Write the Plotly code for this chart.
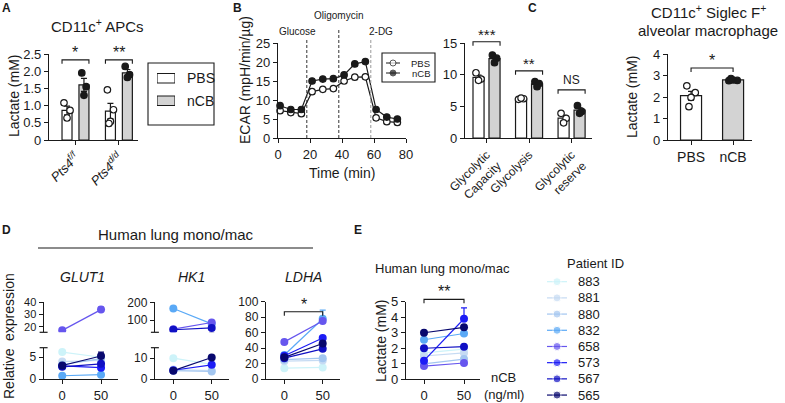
import numpy as np
import plotly.graph_objects as go

W, H = 785, 403
FONT = "Liberation Sans, Arial, Helvetica, sans-serif"
INK = "#1a1a1a"
GRAY = "#d3d3d3"

# ---------------- data ----------------
a_groups = ["<i>Pts4</i><sup><i>f/f</i></sup>", "<i>Pts4</i><sup><i>d/d</i></sup>"]
a_pbs_pts = [[1.08, 0.86, 0.64], [1.46, 0.88, 0.54, 0.48]]
a_ncb_pts = [[1.95, 1.55, 1.30], [2.14, 1.90, 1.82]]
a_sig = ["*", "**"]
a_ticks = [0, 0.5, 1.0, 1.5, 2.0, 2.5]
a_legend = ["PBS", "nCB"]

b_time = [1.3, 8, 14.6, 21.3, 28, 34.6, 41.3, 48, 54.6, 61.3, 68, 74.6]
b_pbs = [7.2, 6.7, 6.4, 12.2, 12.8, 13.0, 15.0, 16.0, 16.1, 5.3, 4.3, 4.1]
b_ncb = [8.5, 7.5, 7.5, 15.0, 15.5, 15.6, 16.6, 19.5, 20.1, 7.5, 5.5, 5.0]
b_inject_t = [18, 38, 58]
b_inject_lbl = ["Glucose", "Oligomycin", "2-DG"]
b_cats = ["Glycolytic<br>Capacity", "Glycolysis", "Glycolytic<br>reserve"]
b_pbs_pts = [[10.3, 9.3, 9.1], [6.1, 6.2, 6.3], [3.9, 3.1, 2.4]]
b_ncb_pts = [[13.1, 12.6, 11.9], [8.9, 8.6, 8.1], [5.1, 4.2, 3.9]]
b_sig = ["***", "**", "NS"]
b_sig_level = [15.2, 10.6, 7.6]

c_cats = ["PBS", "nCB"]
c_pbs_pts = [2.52, 2.20, 1.98, 1.55]
c_ncb_pts = [2.76, 2.77, 2.79, 2.86]

patients = ["883", "881", "880", "832", "658", "573", "567", "565"]
pat_colors = ["#cdf3f9", "#c6dbf3", "#a3c6f0", "#5aa9f6", "#6656ee", "#1c1cf5", "#1010c4", "#08086e"]
doses = [0, 50]
glut1_0 = [6.2, 4.0, 3.3, 0.75, 17.0, 3.0, 2.8, 3.1]
glut1_50 = [5.0, 4.3, 4.7, 1.0, 34.0, 2.6, 3.5, 5.3]
glut1_err50 = [0, 0, 0, 0, 2.0, 0, 0, 0.9]
hk1_0 = [10.0, 4.5, 4.0, 165, 48, 4.2, 45, 4.0]
hk1_50 = [7.0, 4.0, 3.6, 78, 86, 6.8, 55, 10.3]
ldha_0 = [14, 23, 25, 31, 48, 30, 27, 28]
ldha_50 = [15, 24, 27, 78, 75, 53, 39, 46]
ldha_err50 = [0, 0, 0, 11, 0, 0, 0, 0]
lact_0 = [1.7, 1.5, 1.0, 2.55, 0.85, 1.2, 2.0, 3.0]
lact_50 = [1.95, 1.7, 1.3, 2.95, 1.05, 3.9, 2.1, 3.35]
lact_err50 = [0, 0, 0, 0, 0, 0.7, 0.12, 0]


class Panel:
    def __init__(self, box, xr, yr):
        self.x0, self.y0, self.x1, self.y1 = box
        self.xr, self.yr = list(xr), list(yr)

    def px(self, v):
        return self.x0 + (v - self.xr[0]) / (self.xr[1] - self.xr[0]) * (self.x1 - self.x0)

    def py(self, v):
        return self.y1 - (v - self.yr[0]) / (self.yr[1] - self.yr[0]) * (self.y1 - self.y0)

    def xdom(self):
        return [self.x0 / W, self.x1 / W]

    def ydom(self):
        return [max(0, 1 - self.y1 / H), min(1, 1 - self.y0 / H)]


def PX(x):
    return x / W


def PY(y):
    return 1 - y / H


fig = go.Figure()
ann, shapes, axes = [], [], {}


def ref(n):
    return ("x", "y") if n == 1 else (f"x{n}", f"y{n}")


def axstyle(**kw):
    d = dict(showline=True, linecolor=INK, linewidth=1.2, ticks="outside", ticklen=4,
             tickwidth=1.2, tickcolor=INK, showgrid=False, zeroline=False, automargin=False,
             ticklabeloverflow="allow",
             tickfont=dict(family=FONT, size=13, color=INK), fixedrange=True)
    d.update(kw)
    return d


def hidden_axis(pan, which, anchor):
    rng = pan.xr if which == "x" else pan.yr
    dom = pan.xdom() if which == "x" else pan.ydom()
    return dict(domain=dom, range=rng, anchor=anchor, visible=False, fixedrange=True, automargin=False)


def setup(n, pan, xkw=None, ykw=None):
    xr, yr = ref(n)
    xa = "xaxis" if n == 1 else f"xaxis{n}"
    ya = "yaxis" if n == 1 else f"yaxis{n}"
    axes[xa] = axstyle(domain=pan.xdom(), range=pan.xr, anchor=yr, **(xkw or {}))
    axes[ya] = axstyle(domain=pan.ydom(), range=pan.yr, anchor=xr, **(ykw or {}))


def text(px, py, s, size=13, xanchor="center", yanchor="middle", angle=0):
    ann.append(dict(x=PX(px), y=PY(py), xref="paper", yref="paper", text=s, showarrow=False,
                    font=dict(family=FONT, size=size, color=INK), xanchor=xanchor,
                    yanchor=yanchor, textangle=angle))


def line(x0, y0, x1, y1, width=1.2, color=INK, dash=None):
    shapes.append(dict(type="line", xref="paper", yref="paper", x0=PX(x0), y0=PY(y0),
                       x1=PX(x1), y1=PY(y1), line=dict(color=color, width=width, dash=dash)))


def bracket(pan, xa, xb, yv, label, size=15, drop=4, gap=1):
    x0, x1, y = pan.px(xa), pan.px(xb), pan.py(yv)
    shapes.append(dict(type="path", xref="paper", yref="paper",
                       path=f"M{PX(x0)},{PY(y + drop)} L{PX(x0)},{PY(y)} L{PX(x1)},{PY(y)} L{PX(x1)},{PY(y + drop)}",
                       line=dict(color=INK, width=1.1)))
    text((x0 + x1) / 2, y - gap, label, size=size, yanchor="bottom")


def sem(v):
    v = np.asarray(v, float)
    return float(v.std(ddof=1) / np.sqrt(len(v)))


def jitter(n, spread):
    pattern = [-1.0, 1.0, 0.0, -0.5, 0.5]
    return [pattern[k % len(pattern)] * spread for k in range(n)]


def bar_group(n, centers, pts_list, offset, width, fill, open_pts, spread=0.05):
    xr, yr = ref(n)
    means = [float(np.mean(p)) for p in pts_list]
    errs = [sem(p) for p in pts_list]
    fig.add_trace(go.Bar(x=centers, y=means, xaxis=xr, yaxis=yr, offset=offset - width / 2, width=width,
                         marker=dict(color=fill, line=dict(color=INK, width=1.2)),
                         error_y=dict(type="data", array=errs, color=INK, thickness=1.2, width=3),
                         showlegend=False))
    xs, ys = [], []
    for c, p in zip(centers, pts_list):
        js = jitter(len(p), spread)
        xs += [c + offset + j for j in js]
        ys += list(p)
    fig.add_trace(go.Scatter(x=xs, y=ys, xaxis=xr, yaxis=yr, mode="markers", showlegend=False,
                             cliponaxis=False,
                             marker=dict(size=6.5, symbol="circle", color="white" if open_pts else INK,
                                         line=dict(color=INK, width=1.2))))


# ---------------- Panel A ----------------
pa = Panel((49, 54, 138, 140), (-0.61, 1.44), (0, 2.5))
A_OFF, A_W = 0.195, 0.23
a_x = list(range(len(a_groups)))
setup(1, pa,
      dict(tickvals=a_x, ticktext=a_groups, tickangle=-45, tickfont=dict(family=FONT, size=13, color=INK)),
      dict(tickvals=a_ticks, ticktext=["0" if t == 0 else f"{t:.1f}" for t in a_ticks]))
bar_group(1, a_x, a_pbs_pts, -A_OFF, A_W, "white", True, spread=0.07)
bar_group(1, a_x, a_ncb_pts, A_OFF, A_W, GRAY, False, spread=0.05)
for g, s in zip(a_x, a_sig):
    bracket(pa, g - A_OFF - A_W / 2, g + A_OFF + A_W / 2, 2.33, s, size=16, gap=-3)
text(6, 8, "<b>A</b>", size=12)
text(97, 25, "CD11c<sup>+</sup> APCs", size=15)
text(14, 96, "Lactate (mM)", size=14, angle=-90)

# legend for A (swatches on own axis)
paleg = Panel((157, 67, 175, 112), (0, 1), (-0.5, 1.5))
axes["xaxis13"] = hidden_axis(paleg, "x", "y13")
axes["yaxis13"] = hidden_axis(paleg, "y", "x13")
for row, nm, fillc in zip([1, 0], a_legend, ["white", GRAY]):
    fig.add_trace(go.Bar(x=[1], y=[row], base=[0], orientation="h", width=0.42, xaxis="x13", yaxis="y13",
                         showlegend=False, marker=dict(color=fillc, line=dict(color=INK, width=1.1))))
    text(185, paleg.py(row), nm, size=14, xanchor="left")
shapes.append(dict(type="rect", xref="paper", yref="paper", x0=PX(148), x1=PX(214), y0=PY(125), y1=PY(63),
                   line=dict(color=INK, width=1.1)))

# ---------------- Panel B (time course) ----------------
pbl = Panel((278, 43, 406, 138), (0, 80), (0, 25))
setup(2, pbl, dict(tickvals=[0, 20, 40, 60, 80]), dict(tickvals=[0, 5, 10, 15, 20, 25]))
fig.add_trace(go.Scatter(x=b_time, y=b_pbs, xaxis="x2", yaxis="y2", mode="lines+markers", showlegend=False,
                         cliponaxis=False, line=dict(color=INK, width=1.2),
                         marker=dict(size=6.5, color="white", line=dict(color=INK, width=1.2))))
fig.add_trace(go.Scatter(x=b_time, y=b_ncb, xaxis="x2", yaxis="y2", mode="lines+markers", showlegend=False,
                         cliponaxis=False, line=dict(color=INK, width=1.2),
                         marker=dict(size=6.5, color=INK, line=dict(color=INK, width=1.2))))
inj_top = [40, 30, 40]
inj_col = ["#333333", "#333333", "#999999"]
for t, top, col in zip(b_inject_t, inj_top, inj_col):
    line(pbl.px(t), pbl.y1, pbl.px(t), top, width=1, color=col, dash="3px,2px")
for (lx, ly), lbl in zip([(297, 32), (338, 15), (381, 32)], b_inject_lbl):
    text(lx, ly, lbl, size=10)
text(237, 8, "<b>B</b>", size=12)
text(342, 173, "Time (min)", size=14)
text(245, 80, "ECAR (mpH/min/µg)", size=14, angle=-90)

pbleg = Panel((386, 58, 400, 78), (0, 1), (-0.5, 1.5))
axes["xaxis12"] = hidden_axis(pbleg, "x", "y12")
axes["yaxis12"] = hidden_axis(pbleg, "y", "x12")
for row, (nm, fillc) in zip([1, 0], [("PBS", "white"), ("nCB", INK)]):
    fig.add_trace(go.Scatter(x=[0, 0.5, 1], y=[row] * 3, xaxis="x12", yaxis="y12", mode="lines+markers",
                             showlegend=False, cliponaxis=False, line=dict(color=INK, width=1),
                             marker=dict(size=[0, 6, 0], color=fillc, line=dict(color=INK, width=1))))
    text(432, pbleg.py(row), nm, size=9.5, xanchor="right")
shapes.append(dict(type="rect", xref="paper", yref="paper", x0=PX(382), x1=PX(435), y0=PY(82), y1=PY(53),
                   line=dict(color=INK, width=1.1)))

# ---------------- Panel B (bars) ----------------
pbr = Panel((465, 43, 592, 138), (-0.506, 2.48), (0, 15))
B_OFF, B_W = 0.188, 0.26
b_x = list(range(len(b_cats)))
setup(3, pbr, dict(tickvals=b_x, ticktext=b_cats, tickangle=-45, tickfont=dict(family=FONT, size=12, color=INK)),
      dict(tickvals=[0, 5, 10, 15]))
bar_group(3, b_x, b_pbs_pts, -B_OFF, B_W, "white", True, spread=0.06)
bar_group(3, b_x, b_ncb_pts, B_OFF, B_W, GRAY, False, spread=0.05)
for g, s, lv in zip(b_x, b_sig, b_sig_level):
    bracket(pbr, g - B_OFF - B_W / 2, g + B_OFF + B_W / 2, lv, s,
            size=15 if s != "NS" else 12, gap=(-3 if s != "NS" else 1))

# ---------------- Panel C ----------------
pc = Panel((668, 54, 752, 140), (-0.548, 1.45), (0, 4))
setup(4, pc, dict(tickvals=[0, 1], ticktext=c_cats, tickfont=dict(family=FONT, size=14, color=INK)),
      dict(tickvals=[0, 1, 2, 3, 4]))
bar_group(4, [0], [c_pbs_pts], 0, 0.5, "white", True, spread=0.1)
bar_group(4, [1], [c_ncb_pts], 0, 0.5, GRAY, False, spread=0.1)
bracket(pc, 0, 1, 3.35, "*", size=16, gap=-3)
text(532, 8, "<b>C</b>", size=12)
text(708, 11, "CD11c<sup>+</sup> Siglec F<sup>+</sup>", size=15)
text(708, 31, "alveolar macrophage", size=15)
text(632, 97, "Lactate (mM)", size=14, angle=-90)

# ---------------- Panel D ----------------
XR_D = (-24, 72)
g_lo = Panel((43.6, 347.7, 118.1, 379), XR_D, (0, 7.2))
g_up = Panel((43.6, 302.3, 118.1, 332.3), XR_D, (15.4, 40))
h_lo = Panel((154.9, 347.7, 228.6, 379), XR_D, (0, 15))
h_up = Panel((154.9, 302.3, 228.6, 332.3), XR_D, (30.5, 200))
l_p = Panel((265.9, 301.7, 339.6, 379), XR_D, (0, 100))

xkw_d = dict(tickvals=doses)
hidden_x = dict(visible=False)
f12 = dict(family=FONT, size=12, color=INK)
f11 = dict(family=FONT, size=11, color=INK)
setup(5, g_lo, xkw_d, dict(tickvals=[0, 5], tickfont=f12))
setup(6, g_up, hidden_x, dict(tickvals=[20, 30, 40], tickfont=f11))
setup(7, h_lo, xkw_d, dict(tickvals=[0, 10], tickfont=f12))
setup(8, h_up, hidden_x, dict(tickvals=[100, 200], tickfont=f12))
setup(9, l_p, xkw_d, dict(tickvals=[0, 20, 40, 60, 80, 100], tickfont=f12))


def patient_traces(n, v0, v50, err50=None):
    xr, yr = ref(n)
    for i, pid in enumerate(patients):
        e = err50[i] if err50 is not None else 0
        ey = None
        if e > 0:
            ey = dict(type="data", symmetric=False, array=[float("nan"), e], arrayminus=[float("nan"), 0],
                      color=pat_colors[i], thickness=1.2, width=3)
        fig.add_trace(go.Scatter(x=doses, y=[v0[i], v50[i]], xaxis=xr, yaxis=yr, mode="lines+markers",
                                 showlegend=False, line=dict(color=pat_colors[i], width=1.2),
                                 marker=dict(size=8, color=pat_colors[i]), error_y=ey, name=pid))


patient_traces(5, glut1_0, glut1_50, glut1_err50)
patient_traces(6, glut1_0, glut1_50, glut1_err50)
patient_traces(7, hk1_0, hk1_50)
patient_traces(8, hk1_0, hk1_50)
patient_traces(9, ldha_0, ldha_50, ldha_err50)

for lo, up in [(g_lo, g_up), (h_lo, h_up)]:
    line(up.x0 - 4, up.y1, up.x0 + 4, up.y1)
    line(lo.x0 - 4, lo.y0, lo.x0 + 4, lo.y0)

bracket(l_p, 0, 50, 87, "*", size=16, gap=-3)
text(6, 230, "<b>D</b>", size=12)
text(176, 235, "Human lung mono/mac", size=15)
line(38, 248, 313, 248)
text(82, 277, "<i>GLUT1</i>", size=14)
text(191, 277, "<i>HK1</i>", size=14)
text(303, 277, "<i>LDHA</i>", size=14)
text(9, 307, "expression", size=14, angle=-90)
text(9, 374, "Relative", size=14, angle=-90)

# ---------------- Panel E ----------------
pe = Panel((406, 301.7, 480, 379.3), (-22.5, 70), (0, 5))
setup(10, pe, dict(tickvals=doses), dict(tickvals=[0, 1, 2, 3, 4, 5]))
patient_traces(10, lact_0, lact_50, lact_err50)
bracket(pe, 0, 50, 5.15, "**", size=16, gap=-3)
text(358, 230, "<b>E</b>", size=12)
text(442, 268, "Human lung mono/mac", size=13)
text(381, 341, "Lactate (mM)", size=14, angle=-90)
text(503, 377, "nCB", size=13)
text(504, 394, "(ng/ml)", size=13)

pl = Panel((547, 274, 567, 403), (0, 1), (-7.49, 0.475))
axes["xaxis11"] = hidden_axis(pl, "x", "y11")
axes["yaxis11"] = dict(domain=pl.ydom(), range=pl.yr, anchor="x11", side="right", showline=False,
                       ticks="", showgrid=False, zeroline=False, fixedrange=True, automargin=False,
                       tickvals=[-i for i in range(len(patients))], ticktext=patients,
                       ticklabelstandoff=10, tickfont=dict(family=FONT, size=13, color=INK))
for i, pid in enumerate(patients):
    fig.add_trace(go.Scatter(x=[0, 0.5, 1], y=[-i] * 3, xaxis="x11", yaxis="y11", mode="lines+markers",
                             showlegend=False, cliponaxis=False, line=dict(color=pat_colors[i], width=1.2),
                             marker=dict(size=[0, 8, 0], color=pat_colors[i])))
text(565, 263, "Patient ID", size=13, xanchor="left")

fig.update_layout(
    template="none",
    width=W, height=H, margin=dict(l=0, r=0, t=0, b=0, pad=0, autoexpand=False), autosize=False,
    paper_bgcolor="white", plot_bgcolor="rgba(0,0,0,0)",
    font=dict(family=FONT, size=13, color=INK),
    barmode="overlay", showlegend=False,
    annotations=ann, shapes=shapes,
    **axes,
)
fig.write_html("out.html", config={"displayModeBar": False},
               post_script="document.body.style.margin='0';document.body.style.overflow='hidden';")
